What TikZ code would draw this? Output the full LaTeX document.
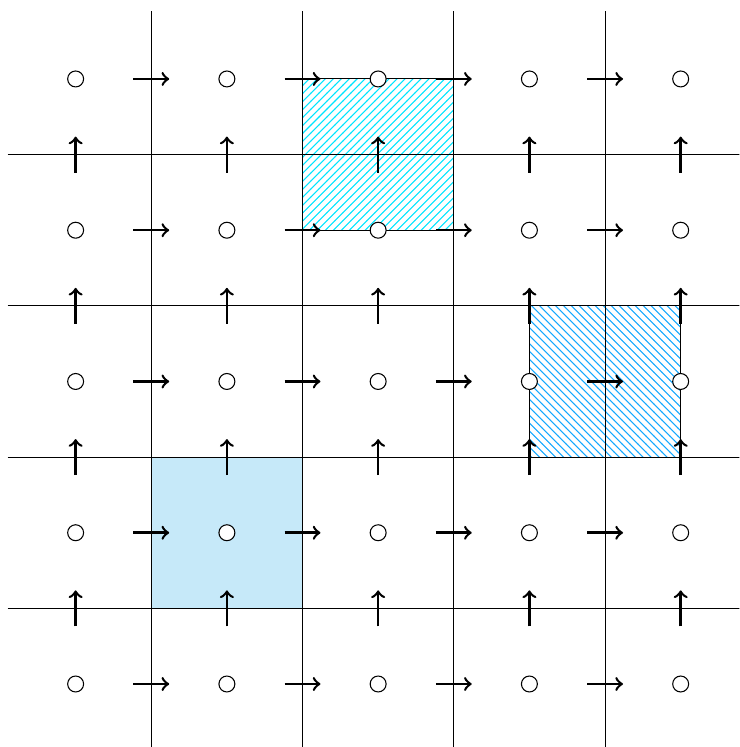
\documentclass[tikz,border=0pt]{standalone}
\usetikzlibrary{patterns}
\definecolor{cellfill}{HTML}{C6E9F9}
\definecolor{hatchcyan}{HTML}{00E5FF}
\definecolor{hatchblue}{HTML}{14A8FF}
\begin{document}
\begin{tikzpicture}[x=2cm, y=2cm,
  site/.style={circle, draw, fill=white, inner sep=0pt, minimum size=6pt},
  arr/.style={->, line width=0.95pt, shorten >=0.65cm, shorten <=0.65cm}]
\useasboundingbox (-0.5,-0.4165) rectangle (4.388,4.522);
\clip (-0.5,-0.4165) rectangle (4.388,4.522);
% marked cells
\fill[cellfill] (0.5,0.5) rectangle (1.5,1.5);
\draw[pattern=north east lines, pattern color=hatchcyan] (1.5,3) rectangle (2.5,4);
\draw[pattern=north west lines, pattern color=hatchblue] (3,1.5) rectangle (4,2.5);
% grid
\foreach \k in {0.5,1.5,2.5,3.5} {
  \draw (\k,-0.45) -- (\k,4.45);
  \draw (-0.45,\k) -- (4.45,\k);
}
% sites
\foreach \i in {0,...,4}
  \foreach \j in {0,...,4}
    \node[site] (s\i\j) at (\i,\j) {};
% links
\foreach \i/\n in {0/1,1/2,2/3,3/4}
  \foreach \j in {0,...,4} {
    \draw[arr] (s\i\j) -- (s\n\j);
    \draw[arr] (s\j\i) -- (s\j\n);
  }
\end{tikzpicture}
\end{document}
